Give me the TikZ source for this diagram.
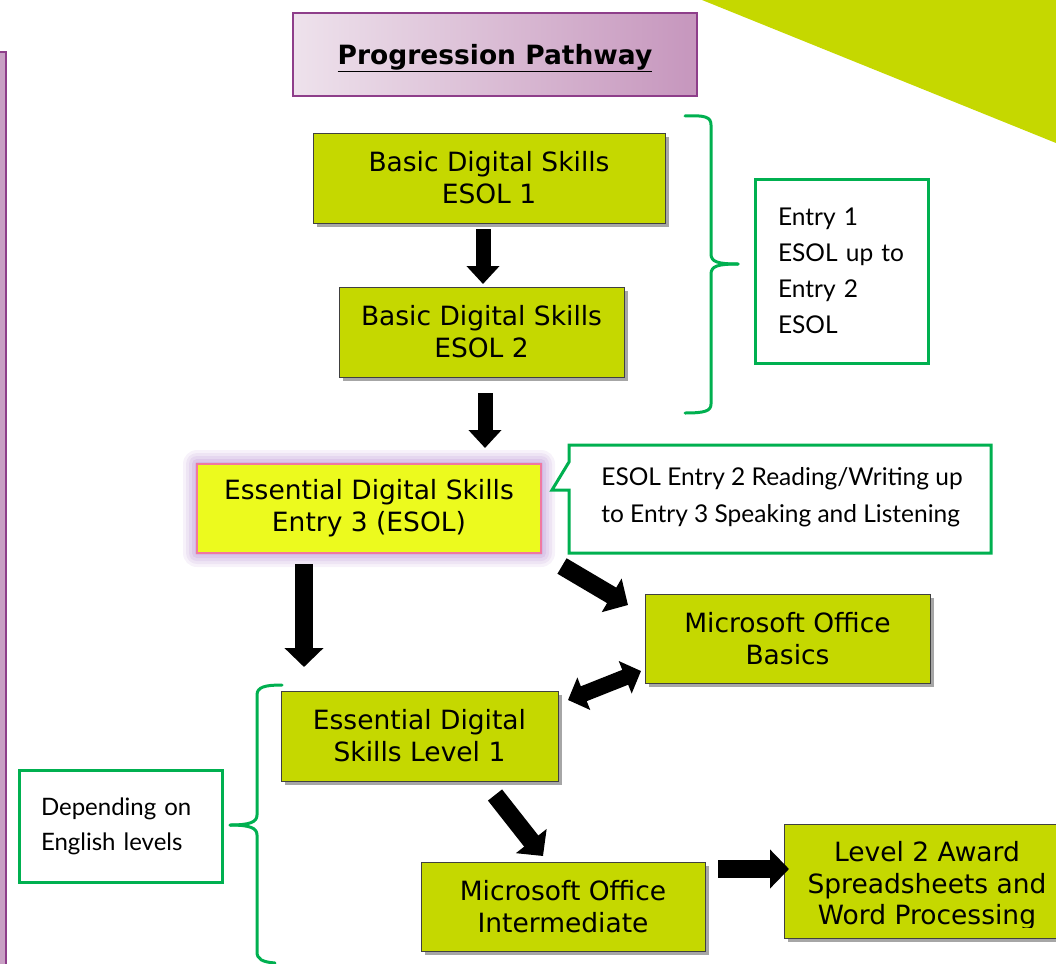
\documentclass[tikz,border=0pt]{standalone}
\usepackage{fontspec}
\setmainfont{DejaVu Sans}
\newfontfamily\gill{Lato}
\usetikzlibrary{arrows.meta,shadows,calc}
\definecolor{lime}{RGB}{197,216,0}
\definecolor{grn}{RGB}{0,176,80}
\definecolor{purp}{RGB}{142,62,138}
\definecolor{purpfill}{RGB}{200,160,196}
\definecolor{titleL}{RGB}{238,226,236}
\definecolor{titleR}{RGB}{198,150,189}
\definecolor{yel}{RGB}{236,250,30}
\definecolor{pink}{RGB}{240,120,160}
\definecolor{glow}{RGB}{175,130,205}
\tikzset{
  limebox/.style={draw=black!75, line width=0.8pt, fill=lime, align=center,
    font=\fontsize{26.5}{32}\selectfont, inner sep=0pt,
    drop shadow={shadow xshift=4pt, shadow yshift=-4pt, opacity=0.35, fill=black}},
  notebox/.style={draw=grn, line width=3pt, fill=white, align=left,
    font=\gill\fontsize{24.5}{36}\selectfont, inner sep=0pt},
  bigarrow/.style={line width=18pt, -{Triangle[width=38pt,length=19pt]}},
  smallarrow/.style={line width=15pt, -{Triangle[width=32pt,length=18pt]}},
  dblarrow/.style={line width=16pt, {Triangle[width=34pt,length=17pt]}-{Triangle[width=34pt,length=17pt]}},
  bracestyle/.style={draw=grn, line width=3pt, line cap=round}
}
\begin{document}
\begin{tikzpicture}[x=1pt,y=-1pt]
\useasboundingbox (0,0) rectangle (1056,963);
% background decoration
\fill[lime] (702,0) -- (1056,0) -- (1056,143) -- cycle;
\draw[draw=purp, fill=purpfill, line width=2pt] (-10,52) -- (6,52) -- (6,975) -- (-10,975) -- cycle;

% title
\node[draw=purp, line width=2pt, left color=titleL, right color=titleR,
  minimum width=404pt, minimum height=83pt, inner sep=0pt, text depth=0pt,
  font=\bfseries\fontsize{26.5}{30}\selectfont] (title) at (495,54.5)
  {\underline{Progression Pathway}};

% main boxes
\node[limebox, minimum width=352pt, minimum height=90pt] (b1) at (489,178) {Basic Digital Skills\\ESOL 1};
\node[limebox, minimum width=285pt, minimum height=90pt] (b2) at (481.5,332) {Basic Digital Skills\\ESOL 2};

% glow for entry 3
\foreach \g/\o in {14/0.10,11/0.12,8/0.14,5/0.18,2/0.22}{
  \fill[glow, opacity=\o, rounded corners=\g pt] ($(197,464)+(-\g,-\g)$) rectangle ($(541,553)+(\g,\g)$);
}
\node[draw=pink, line width=1.2pt, fill=yel, align=center, inner sep=0pt,
  font=\fontsize{26.5}{32}\selectfont,
  minimum width=344pt, minimum height=89pt] (b3) at (369,508.5)
  {Essential Digital Skills\\Entry 3 (ESOL)};

\node[limebox, minimum width=285pt, minimum height=89pt] (basics) at (787.5,638.5) {Microsoft Office\\Basics};
\node[limebox, minimum width=277pt, minimum height=90pt] (l1) at (419.5,736) {Essential Digital\\Skills Level 1};
\node[limebox, minimum width=284pt, minimum height=89pt] (inter) at (563,906.5) {Microsoft Office\\Intermediate};
\node[limebox, minimum width=286pt, minimum height=114pt] (l2) at (927,881) {};
\begin{scope}
  \clip (780,820) rectangle (1056,927);
  \node[align=center, inner sep=0pt, font=\fontsize{26.5}{31.5}\selectfont] (l2text) at (927,886)
    {Level 2 Award\\Spreadsheets and\\Word Processing};
\end{scope}

% callout
\draw[draw=grn, line width=3pt, fill=white, line join=miter]
  (569,445) -- (991,445) -- (991,553) -- (569,553) -- (569,490) -- (552,490) -- (569,462) -- cycle;
\node[align=left, inner sep=0pt, font=\gill\fontsize{24.5}{37}\selectfont] (callout) at (782,497)
  {ESOL Entry 2 Reading/Writing up\\to Entry 3 Speaking and Listening};

% note boxes
\node[notebox, minimum width=173pt, minimum height=184pt, text width=127pt] (entry) at (841.5,271)
  {Entry 1\\ESOL up to\\Entry 2\\ESOL};
\node[notebox, minimum width=203pt, minimum height=112pt, text width=159pt, font=\gill\fontsize{24}{35}\selectfont] (depend) at (120.5,826)
  {Depending on\\English levels};

% braces
\coordinate (rbt) at (738,264);
\draw[bracestyle] (685,116) .. controls (705,115) and (711,117) .. (711,125) -- (711,254)
  .. controls (711,262) and (718,264) .. (rbt);
\draw[bracestyle] (rbt) .. controls (718,264) and (711,266) .. (711,274) -- (711,404)
  .. controls (711,411) and (705,413) .. (685,413);
\coordinate (lbt) at (230,825);
\draw[bracestyle] (282,685) .. controls (265,685) and (257,687) .. (257,695) -- (257,815)
  .. controls (257,822) and (250,825) .. (lbt);
\draw[bracestyle] (lbt) .. controls (250,825) and (257,828) .. (257,835) -- (257,952)
  .. controls (257,959) and (262,962) .. (275,963);

% arrows
\coordinate (a1s) at (483,229); \coordinate (a1e) at (483,284);
\coordinate (a2s) at (485,393); \coordinate (a2e) at (485,448);
\coordinate (a3s) at (304,564); \coordinate (a3e) at (304,667);
\coordinate (a4s) at (562,566); \coordinate (a4e) at (628,605);
\coordinate (a5s) at (568,700); \coordinate (a5e) at (641,671);
\coordinate (a6s) at (495,795); \coordinate (a6e) at (543,856);
\coordinate (a7s) at (718,869); \coordinate (a7e) at (789,869);
\draw[smallarrow] (a1s) -- (a1e);
\draw[smallarrow] (a2s) -- (a2e);
\draw[bigarrow] (a3s) -- (a3e);
\draw[bigarrow] (a4s) -- (a4e);
\draw[dblarrow] (a5s) -- (a5e);
\draw[bigarrow] (a6s) -- (a6e);
\draw[bigarrow] (a7s) -- (a7e);
\end{tikzpicture}
\end{document}
